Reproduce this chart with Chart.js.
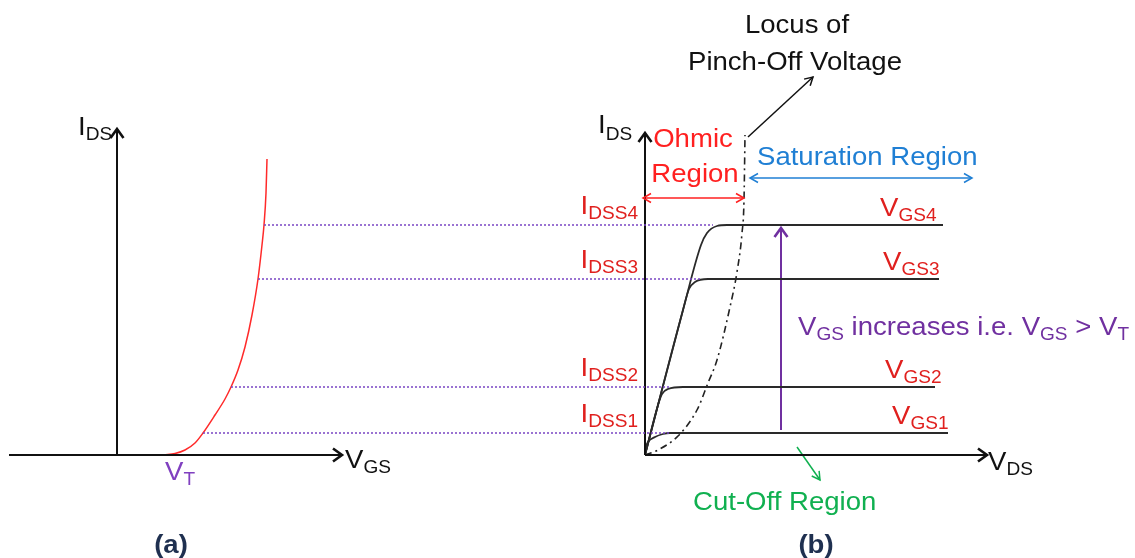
<!DOCTYPE html>
<html>
<head>
<meta charset="utf-8">
<title>E-MOSFET characteristics</title>
<script src="https://cdn.jsdelivr.net/npm/chart.js@4.4.1/dist/chart.umd.min.js"></script>
<style>
  html, body { margin: 0; background: #fff; }
</style>
</head>
<body>
<canvas id="fetChart" width="1135" height="558"></canvas>
<script>
// (a) transfer curve: IDS against VGS
const transferVgs = [4.7, 5.8, 6.8, 7.8, 8.6, 9.8, 10.8, 11.4, 12.1, 12.8, 13.5, 14.1, 14.5, 14.7, 14.9, 15.0];
const transferIds = [0, 0.15, 0.5, 1.2, 2.2, 4.0, 5.6, 6.8, 8.5, 10.8, 14.0, 17.6, 21.0, 23.0, 26.2, 29.6];

// saturation currents IDSS1..IDSS4
const idss = [2.2, 6.8, 17.6, 23.0];

// (b) drain curves: IDS against VDS, one per gate voltage
const vds1 = [0, 0.1, 0.3, 1.0, 1.8, 2.5, 30.3];
const ids1 = [0, 0.8, 1.3, 1.8, 2.1, 2.2, 2.2];
const vds2 = [0, 1.3, 1.7, 2.3, 3.8, 29.0];
const ids2 = [0, 5.0, 6.1, 6.6, 6.8, 6.8];
const vds3 = [0, 3.8, 4.4, 5.0, 6.3, 29.4];
const ids3 = [0, 14.5, 16.6, 17.3, 17.6, 17.6];
const vds4 = [0, 3.8, 5.6, 6.2, 7.2, 8.2, 29.8];
const ids4 = [0, 14.5, 21.0, 22.2, 22.9, 23.0, 23.0];

// pinch-off locus
const locusVds = [0, 1.3, 3.3, 5.2, 6.3, 7.2, 8.5, 9.2, 9.7, 9.9, 10.0];
const locusIds = [0, 0.5, 1.9, 4.5, 7.2, 9.5, 14.8, 18.3, 22.2, 25.5, 32.0];

// where the guide lines from (a) meet the knee of each curve in (b)
const guideEndVds = [2.5, 2.5, 5.5, 6.8];

// both panels share one pair of scales; each panel has its own origin
const ORIGIN_A = 11.7;
const ORIGIN_B = 64.5;
const A = (v, i) => ({ x: v + ORIGIN_A, y: i });
const B = (v, i) => ({ x: v + ORIGIN_B, y: i });
const zipA = (xs, ys) => xs.map((v, k) => A(v, ys[k]));
const zipB = (xs, ys) => xs.map((v, k) => B(v, ys[k]));

const INK = '#111';
const PURPLE = '#7030a0';
const RED = '#e0201e';

function line(points, style) {
  return Object.assign({
    data: points,
    pointRadius: 0,
    borderWidth: 1.5,
    borderColor: INK,
    fill: false,
    tension: 0
  }, style || {});
}

const datasets = [];

// dotted guides from the transfer curve across to the drain curves
idss.forEach((level, k) => {
  const vgs = transferVgs[transferIds.indexOf(level)];
  datasets.push(line([A(vgs, level), B(guideEndVds[k], level)],
    { borderColor: '#7a46c4', borderWidth: 1.5, borderDash: [2, 2] }));
});

// axes
datasets.push(line([A(0, 0), A(0, 32.7)], { borderWidth: 2, head: 'end' }));
datasets.push(line([A(-10.8, 0), A(22.6, 0)], { borderWidth: 2, head: 'end' }));
datasets.push(line([B(0, 0), B(0, 32.3)], { borderWidth: 2, head: 'end' }));
datasets.push(line([B(0, 0), B(34.3, 0)], { borderWidth: 2, head: 'end' }));

// transfer curve
datasets.push(line(zipA(transferVgs, transferIds),
  { borderColor: '#ff2a2a', cubicInterpolationMode: 'monotone' }));

// drain curves
[[vds1, ids1], [vds2, ids2], [vds3, ids3], [vds4, ids4]].forEach(([xs, ys]) => {
  datasets.push(line(zipB(xs, ys),
    { borderColor: '#2a2a2a', borderWidth: 1.8, cubicInterpolationMode: 'monotone' }));
});

// pinch-off locus, dash-dot
datasets.push(line(zipB(locusVds, locusIds),
  { borderColor: '#222', borderWidth: 1.6, borderDash: [7, 4, 2, 4], cubicInterpolationMode: 'monotone' }));

// region and pointer arrows
datasets.push(line([B(-0.2, 25.7), B(9.9, 25.7)], { borderColor: '#ff2020', head: 'both', headStyle: 'open' }));
datasets.push(line([B(10.5, 27.7), B(32.7, 27.7)], { borderColor: '#1f7fd4', head: 'both', headStyle: 'open' }));
datasets.push(line([B(10.3, 31.8), B(16.8, 37.8)], { borderColor: INK, head: 'end', headStyle: 'open' }));
datasets.push(line([B(13.6, 2.5), B(13.6, 22.8)], { borderColor: PURPLE, borderWidth: 2, head: 'end' }));
datasets.push(line([B(15.2, 0.8), B(17.5, -2.5)], { borderColor: '#10b050', head: 'end', headStyle: 'open' }));

// text labels: runs of [text, 'sub'?]
const labels = [
  { x: 7.8, y: 32.0, runs: [['I'], ['DS', 'sub']], color: INK },
  { x: 59.8, y: 32.2, runs: [['I'], ['DS', 'sub']], color: INK, drop: 7 },
  { x: 34.5, y: -1.3, runs: [['V'], ['GS', 'sub']], color: INK },
  { x: 16.5, y: -2.5, runs: [['V'], ['T', 'sub']], color: '#8040c0' },
  { x: 98.8, y: -1.5, runs: [['V'], ['DS', 'sub']], color: INK },
  { x: 69.3, y: 30.8, runs: [['Ohmic']], color: '#ff2020', align: 'center' },
  { x: 69.5, y: 27.3, runs: [['Region']], color: '#ff2020', align: 'center' },
  { x: 75.7, y: 29.0, runs: [['Saturation Region']], color: '#1f7fd4' },
  { x: 79.7, y: 42.2, runs: [['Locus of']], color: INK, align: 'center' },
  { x: 79.5, y: 38.5, runs: [['Pinch-Off Voltage']], color: INK, align: 'center' },
  { x: 79.8, y: 12.0, runs: [['V'], ['GS', 'sub'], [' increases i.e. V'], ['GS', 'sub'], [' > V'], ['T', 'sub']], color: PURPLE },
  { x: 69.3, y: -5.5, runs: [['Cut-Off Region']], color: '#10b050' },
  { x: 17.1, y: -9.8, runs: [['(a)']], color: '#1f3050', align: 'center', bold: true },
  { x: 81.6, y: -9.8, runs: [['(b)']], color: '#1f3050', align: 'center', bold: true }
];
const vgsLabelX = [89.2, 88.5, 88.3, 88.0];
idss.forEach((level, k) => {
  const n = String(k + 1);
  labels.push({ x: 63.8, y: level + 1.1, runs: [['I'], ['DSS' + n, 'sub']], color: RED, align: 'right' });
  labels.push({ x: vgsLabelX[k], y: level + 0.9, runs: [['V'], ['GS' + n, 'sub']], color: RED });
});

function drawHead(ctx, x1, y1, x2, y2, style, width, color) {
  const a = Math.atan2(y2 - y1, x2 - x1);
  ctx.save();
  ctx.translate(x2, y2);
  ctx.rotate(a);
  ctx.strokeStyle = color;
  ctx.lineJoin = 'miter';
  ctx.beginPath();
  if (style === 'open') {
    ctx.lineWidth = width;
    ctx.moveTo(-8, -4.5);
    ctx.lineTo(0, 0);
    ctx.lineTo(-8, 4.5);
  } else {
    // heavier chevron for axes and the main arrow
    ctx.lineWidth = 2.6;
    ctx.moveTo(-10, -6.5);
    ctx.lineTo(-1, 0);
    ctx.lineTo(-10, 6.5);
  }
  ctx.stroke();
  ctx.restore();
}

const arrowHeads = {
  id: 'arrowHeads',
  afterDatasetsDraw(chart) {
    const ctx = chart.ctx;
    chart.data.datasets.forEach((ds, i) => {
      if (!ds.head) return;
      const pts = chart.getDatasetMeta(i).data;
      const p0 = pts[0], p1 = pts[pts.length - 1];
      drawHead(ctx, p0.x, p0.y, p1.x, p1.y, ds.headStyle, ds.borderWidth, ds.borderColor);
      if (ds.head === 'both') drawHead(ctx, p1.x, p1.y, p0.x, p0.y, ds.headStyle, ds.borderWidth, ds.borderColor);
    });
  }
};

const textLabels = {
  id: 'textLabels',
  afterDraw(chart) {
    const ctx = chart.ctx;
    const sx = chart.scales.x, sy = chart.scales.y;
    const family = '"Liberation Sans", Arial, sans-serif';
    const stretch = 1.06;
    labels.forEach(l => {
      const main = (l.bold ? 'bold ' : '') + '26px ' + family;
      const sub = '18px ' + family;
      ctx.save();
      let w = 0;
      l.runs.forEach(r => { ctx.font = r[1] ? sub : main; w += ctx.measureText(r[0]).width; });
      const x = sx.getPixelForValue(l.x);
      const y = sy.getPixelForValue(l.y);
      ctx.translate(x, y);
      ctx.scale(stretch, 1);
      let cx = l.align === 'center' ? -w / 2 : l.align === 'right' ? -w : 0;
      ctx.fillStyle = l.color;
      ctx.textBaseline = 'alphabetic';
      l.runs.forEach(r => {
        ctx.font = r[1] ? sub : main;
        ctx.fillText(r[0], cx, r[1] ? (l.drop || 5) : 0);
        cx += ctx.measureText(r[0]).width;
      });
      ctx.restore();
    });
  }
};

new Chart(document.getElementById('fetChart'), {
  type: 'line',
  data: { datasets: datasets },
  options: {
    responsive: false,
    animation: false,
    layout: { padding: 0 },
    scales: {
      x: { type: 'linear', min: 0, max: 113.5, display: false },
      y: { type: 'linear', min: -10.3, max: 45.5, display: false }
    },
    plugins: { legend: { display: false }, tooltip: { enabled: false } }
  },
  plugins: [arrowHeads, textLabels]
});
</script>
</body>
</html>
